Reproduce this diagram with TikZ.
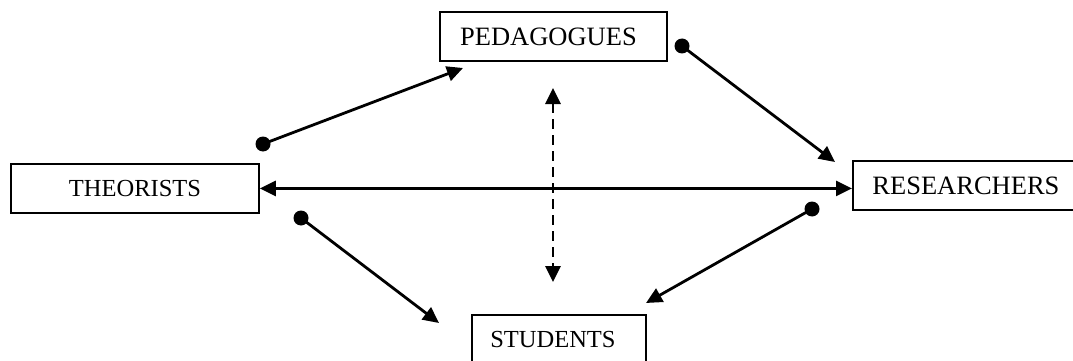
\documentclass[tikz,border=0pt]{standalone}
\usepackage{fontspec}
\setmainfont{Liberation Serif}
\usetikzlibrary{arrows.meta}
\begin{document}
\begin{tikzpicture}[x=1pt,y=-1pt,
  role/.style={draw,line width=1.9pt,inner sep=0pt,anchor=north west},
  bigtext/.style={font=\fontsize{26.5}{30}\selectfont},
  smalltext/.style={font=\fontsize{24.5}{28}\selectfont},
  dotn/.style={circle,fill,inner sep=0pt,minimum size=15pt},
  tip/.style={Triangle[length=16pt,width=15pt]},
  link/.style={line width=2.8pt,-{Triangle[length=16pt,width=15pt]}},
  both/.style={line width=2.8pt,{Triangle[length=16pt,width=15pt]}-{Triangle[length=16pt,width=15pt]}},
]
\useasboundingbox (0,0) rectangle (1073,361);
% the four roles
\node[role,minimum width=227pt,minimum height=49pt,bigtext] (ped) at (439,11) {\hspace*{-10pt}PEDAGOGUES};
\node[role,minimum width=248pt,minimum height=49pt,smalltext] (theo) at (10,163) {THEORISTS};
\node[role,minimum width=226pt,minimum height=49pt,bigtext] (res) at (852,160) {RESEARCHERS};
\node[role,minimum width=174pt,minimum height=52pt,smalltext,text width=174pt,align=center] (stu) at (471,314) {\hspace*{-12pt}\raisebox{4pt}{STUDENTS}};
% start dots and free arrow ends
\node[dotn] (d1) at (263,144) {};
\node[dotn] (d2) at (682,46) {};
\node[dotn] (d3) at (301,218) {};
\node[dotn] (d4) at (812,209) {};
\coordinate (t1) at (463,68);
\coordinate (t2) at (835,162);
\coordinate (t3) at (439,323);
\coordinate (t4) at (646,303);
\coordinate (v1) at (553,88);
\coordinate (v2) at (553,282);
% connectors
\draw[link] (d1.center) -- (t1);
\draw[link] (d2.center) -- (t2);
\draw[link] (d3.center) -- (t3);
\draw[link] (d4.center) -- (t4);
\draw[both] (theo.east) -- (theo.east -| res.west);
\draw[both,dash pattern=on 10pt off 6pt] (v1) -- (v2);
\end{tikzpicture}
\end{document}
